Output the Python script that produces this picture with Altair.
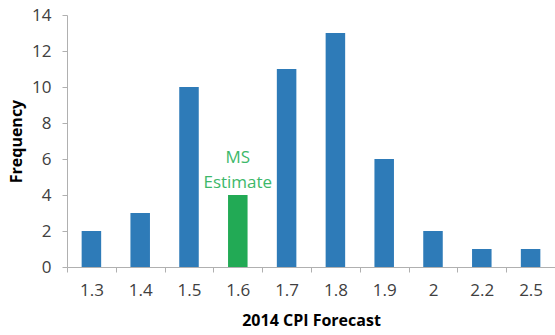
import altair as alt
import pandas as pd

categories = ["1.3", "1.4", "1.5", "1.6", "1.7", "1.8", "1.9", "2", "2.2", "2.5"]
frequency = [2, 3, 10, 4, 11, 13, 6, 2, 1, 1]
highlight = ["no", "no", "no", "yes", "no", "no", "no", "no", "no", "no"]
y_ticks = [0, 2, 4, 6, 8, 10, 12, 14]

df = pd.DataFrame({"cat": categories, "freq": frequency, "hl": highlight})
ann = pd.DataFrame({"cat": ["1.6"], "freq": [4], "label": [["MS", "Estimate"]]})

FONT = "Open Sans"
step = 488 / 10

x_axis = alt.Axis(labelAngle=0, tickOffset=-step / 2, labelOffset=step / 2,
                  tickSize=5, labelPadding=10, titlePadding=14,
                  domainColor="#B0B0B0", tickColor="#B0B0B0",
                  labelColor="#404040", labelFontSize=17, labelFont=FONT,
                  labelOverlap=False,
                  titleFont=FONT, titleFontSize=16, titleFontWeight="bold",
                  titleColor="#000000")
y_axis = alt.Axis(values=y_ticks, tickSize=5,
                  labelPadding=11, grid=False, titlePadding=7,
                  labelOverlap=False,
                  domainColor="#B0B0B0", tickColor="#B0B0B0",
                  labelColor="#404040", labelFontSize=17, labelFont=FONT,
                  titleFont=FONT, titleFontSize=16, titleFontWeight="bold",
                  titleColor="#000000")
x_scale = alt.Scale(paddingInner=0.6, paddingOuter=0.3)
y_scale = alt.Scale(domain=[0, 14], nice=False)

bars = alt.Chart(df).mark_bar().encode(
    x=alt.X("cat:N", sort=categories, title="2014 CPI Forecast", scale=x_scale, axis=x_axis),
    y=alt.Y("freq:Q", title="Frequency", scale=y_scale, axis=y_axis),
    color=alt.Color("hl:N", scale=alt.Scale(domain=["no", "yes"],
                                            range=["#2E7BB8", "#22AA55"]),
                    legend=None),
)

text = alt.Chart(ann).mark_text(
    baseline="bottom", dy=-28, fontSize=17, font=FONT, color="#3DB86A",
    lineHeight=25,
).encode(
    x=alt.X("cat:N", sort=categories, title="2014 CPI Forecast", scale=x_scale, axis=x_axis),
    y=alt.Y("freq:Q", title="Frequency", scale=y_scale, axis=y_axis),
    text="label",
)

chart = (bars + text).properties(
    width=488, height=252,
    background="white",
    autosize=alt.AutoSizeParams(type="none"),
    padding={"left": 67, "top": 15, "right": 0, "bottom": 68},
).configure_view(stroke=None)

chart.save("out.html", embed_options={"renderer": "svg", "actions": False})
